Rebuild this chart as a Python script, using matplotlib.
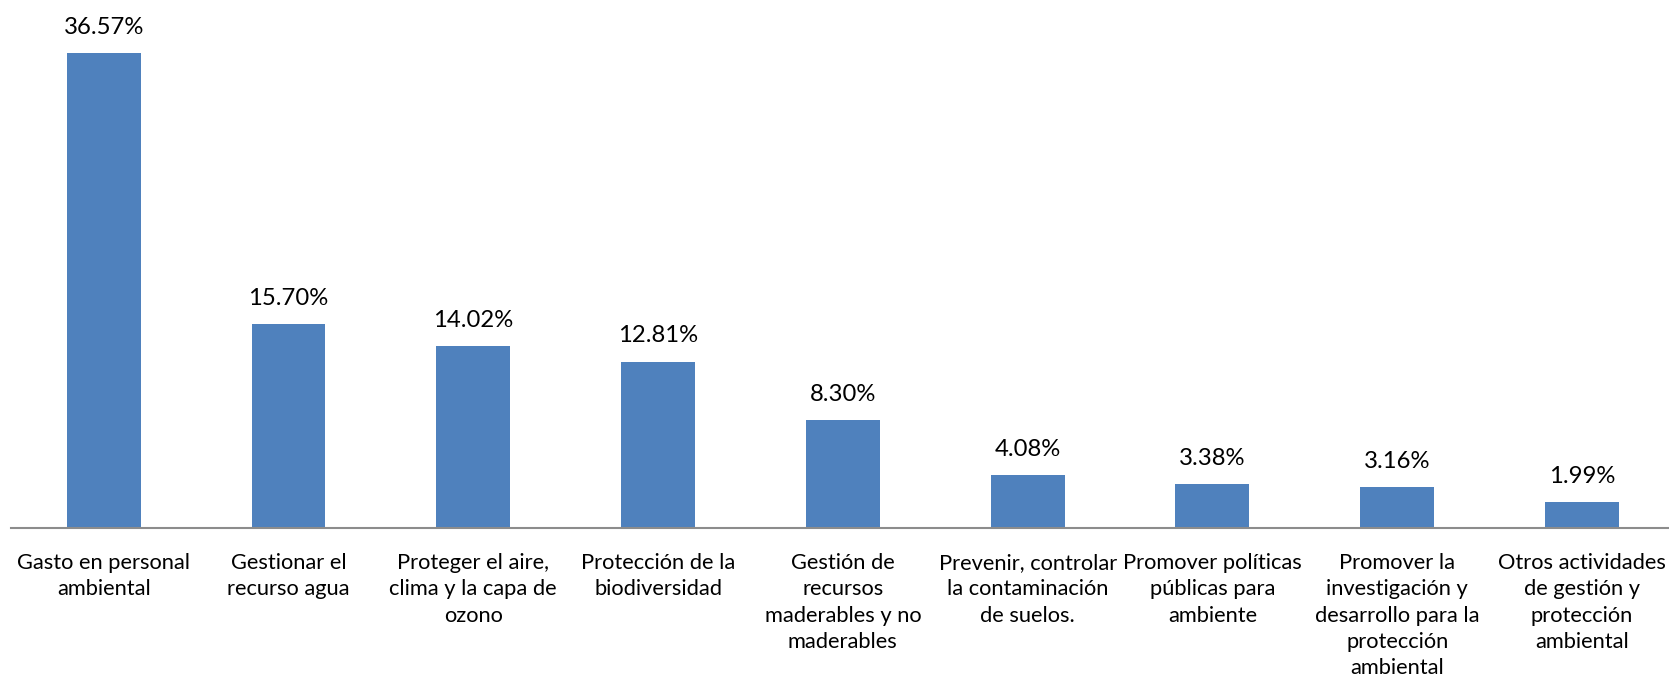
import matplotlib
matplotlib.use("Agg")
import matplotlib.pyplot as plt

categories = [
    "Gasto en personal\nambiental",
    "Gestionar el\nrecurso agua",
    "Proteger el aire,\nclima y la capa de\nozono",
    "Protección de la\nbiodiversidad",
    "Gestión de\nrecursos\nmaderables y no\nmaderables",
    "Prevenir, controlar\nla contaminación\nde suelos.",
    "Promover políticas\npúblicas para\nambiente",
    "Promover la\ninvestigación y\ndesarrollo para la\nprotección\nambiental",
    "Otros actividades\nde gestión y\nprotección\nambiental",
]
values = [36.57, 15.70, 14.02, 12.81, 8.30, 4.08, 3.38, 3.16, 1.99]

plt.rcParams['font.family'] = ['Lato', 'DejaVu Sans']

W, H = 1669, 685
fig = plt.figure(figsize=(W / 100, H / 100), dpi=100)
renderer = fig.canvas.get_renderer()


def fit_size(s, target_px, base=20):
    t = fig.text(0, 0, s, fontsize=base)
    w = t.get_window_extent(renderer).width
    t.remove()
    return base * target_px / w


tick_fs = (fit_size("Gasto en personal", 175) + fit_size("Otros actividades", 168)) / 2
val_fs = fit_size("36.57%", 80)
tick_ls = 21.9 / tick_fs

ax_left, ax_right = 11.3, 1674.4
base = 528.3
ax = fig.add_axes([ax_left / W, 1 - base / H, (ax_right - ax_left) / W, base / H])

x = list(range(len(values)))
ax.bar(x, values, width=0.40, color="#4F81BD")
ax.set_xlim(-0.5, len(values) - 0.5)
ax.set_ylim(0, base / 13.0)

for xi, v in zip(x, values):
    ax.annotate(f"{v:.2f}%", (xi, v), xytext=(0, 11), textcoords="offset points",
                ha="center", va="bottom", fontsize=val_fs, color="black")

ax.set_xticks(x)
ax.set_xticklabels(categories, fontsize=tick_fs, linespacing=tick_ls, va="top")
ax.tick_params(axis="x", length=0, pad=18)
ax.set_yticks([])
for s in ["top", "right", "left"]:
    ax.spines[s].set_visible(False)
ax.spines["bottom"].set_color("#8c8c8c")
ax.spines["bottom"].set_linewidth(1.5)

fig.savefig("out.png", dpi=100)
